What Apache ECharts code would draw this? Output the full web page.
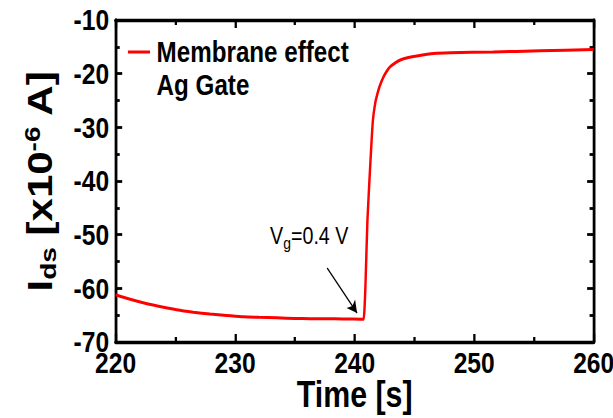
<!DOCTYPE html>
<html>
<head>
<meta charset="utf-8">
<script src="https://cdn.jsdelivr.net/npm/echarts@6/dist/echarts.min.js"></script>
<style>
  html, body { margin: 0; padding: 0; background: #fff; overflow: hidden; }
  /* the source figure is squeezed horizontally; draw wider and scale x */
  #main { width: 748px; height: 418px; transform: scaleX(0.82); transform-origin: 0 0; }
</style>
</head>
<body>
<div id="main"></div>
<script>
// time [s] and drain current [x10^-6 A]
var timeVals = [220, 221, 222.3, 223.5, 225.1, 226.5, 227.9, 229.3, 230.7, 232, 233.5,
                235, 236.3, 237.7, 239.0, 240.6, 240.75,
                240.9, 241.07, 241.36, 241.53, 241.72, 241.9, 242.08, 242.41, 242.7,
                242.98, 243.4, 243.82, 244.5, 245.2, 246.6, 248.0, 251.6, 255.5, 260];
var currentVals = [-61.2, -61.9, -62.7, -63.3, -64.0, -64.45, -64.8, -65.05, -65.3, -65.4, -65.5,
                   -65.6, -65.65, -65.68, -65.7, -65.75, -65.75,
                   -59.7, -47.3, -34.8, -28.6, -25.5, -23.8, -22.4, -20.6, -19.5,
                   -18.7, -18.0, -17.45, -17.0, -16.7, -16.25, -16.1, -15.95, -15.75, -15.5];
var xTicks = [220, 230, 240, 250, 260];
var yTicks = [-70, -60, -50, -40, -30, -20, -10];
// annotation arrow (start, end) and label anchor, data coords
var arrowFrom = [237.7, -56.2];
var arrowTo = [240.2, -64.6];
var noteAt = [236.2, -50.3];

var fam = '"Liberation Sans", Arial, sans-serif';
var chart = echarts.init(document.getElementById('main'), null, { renderer: 'svg' });

var lineData = [];
for (var i = 0; i < timeVals.length; i++) {
    lineData.push([timeVals[i], currentVals[i]]);
}

function frameAxis(pos, showLabel, range) {
    return {
        type: 'value',
        position: pos,
        min: range[0],
        max: range[range.length - 1],
        interval: range[1] - range[0],
        nameMoveOverlap: false,
        axisLine: { show: true, onZero: false, lineStyle: { color: '#000', width: 3.4 } },
        axisTick: { show: true, inside: true, length: 8, lineStyle: { color: '#000', width: 2.8 } },
        minorTick: { show: true, splitNumber: 2, length: 5, lineStyle: { color: '#000', width: 2.8 } },
        splitLine: { show: false },
        axisLabel: {
            show: showLabel, color: '#000', fontSize: 30, fontWeight: 'bold',
            fontFamily: fam, margin: 8
        }
    };
}

var xMain = frameAxis('bottom', true, xTicks);
xMain.axisLabel.margin = 6;
xMain.axisLabel.lineHeight = 30;
xMain.name = 'Time [s]';
xMain.nameLocation = 'middle';
xMain.nameGap = 36;
xMain.nameTextStyle = { color: '#000', fontSize: 37, fontWeight: 'bold', fontFamily: fam, lineHeight: 32 };

var yMain = frameAxis('left', true, yTicks);
yMain.name = '{m|I}{sub|ds}{m| [x10}{sup|-6}{m| A]}';
yMain.nameLocation = 'middle';
yMain.nameRotate = 90;
yMain.nameGap = 68;
yMain.nameTextStyle = {
    color: '#000', fontFamily: fam, fontWeight: 'bold',
    rich: {
        m: { fontSize: 42, fontWeight: 'bold', fontFamily: fam, color: '#000', lineHeight: 48 },
        sub: { fontSize: 28, fontWeight: 'bold', fontFamily: fam, color: '#000', lineHeight: 48, verticalAlign: 'bottom' },
        sup: { fontSize: 28, fontWeight: 'bold', fontFamily: fam, color: '#000', lineHeight: 48, verticalAlign: 'top' }
    }
};

chart.setOption({
    animation: false,
    backgroundColor: '#fff',
    grid: { left: 141, right: 24, top: 20, bottom: 76, containLabel: false, outerBoundsMode: 'none' },
    legend: {
        left: 156, top: 37, padding: 0,
        icon: 'rect', itemWidth: 27, itemHeight: 3,
        textStyle: { color: '#000', fontSize: 29.5, fontWeight: 'bold', fontFamily: fam, lineHeight: 30, padding: [0, 0, 0, 3] },
        data: ['Membrane effect']
    },
    xAxis: [xMain, frameAxis('top', false, xTicks)],
    yAxis: [yMain, frameAxis('right', false, yTicks)],
    series: [{
        name: 'Membrane effect',
        type: 'line',
        data: lineData,
        showSymbol: false,
        smooth: 0.2,
        lineStyle: { color: '#ff0000', width: 3 },
        itemStyle: { color: '#ff0000' },
        markLine: {
            silent: true,
            symbol: ['none', 'arrow'],
            symbolSize: [10, 12],
            label: { show: false },
            lineStyle: { color: '#000', width: 1.4, type: 'solid' },
            data: [[{ coord: arrowFrom }, { coord: arrowTo }]]
        }
    }]
});

var notePx = chart.convertToPixel({ gridIndex: 0 }, noteAt);
chart.setOption({
    graphic: [{
        type: 'text', left: 191, top: 70,
        style: { text: 'Ag Gate', fill: '#000', font: 'bold 29.5px ' + fam }
    }, {
        type: 'text', x: notePx[0], y: notePx[1],
        style: {
            text: '{v|V}{g|g}{v|=0.4 V}',
            align: 'center', verticalAlign: 'middle',
            rich: {
                v: { fontSize: 24, fontFamily: fam, fill: '#000', lineHeight: 30 },
                g: { fontSize: 17, fontFamily: fam, fill: '#000', lineHeight: 30, verticalAlign: 'bottom' }
            }
        }
    }]
});
</script>
</body>
</html>
